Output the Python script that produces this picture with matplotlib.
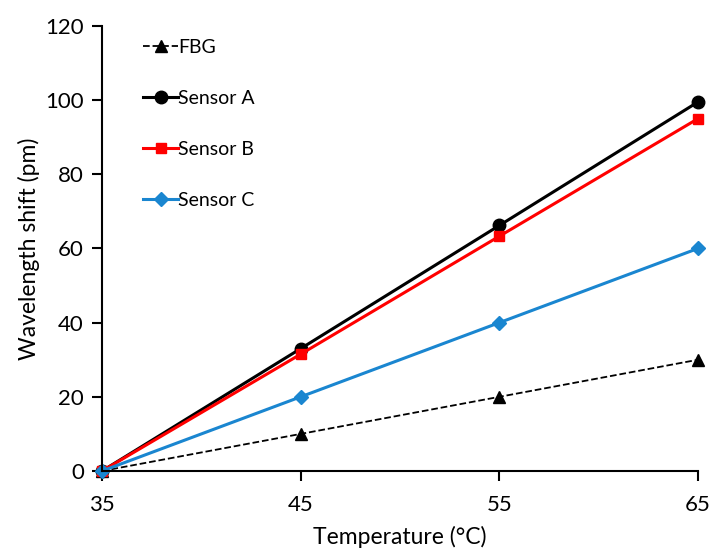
import matplotlib
matplotlib.use("Agg")
import matplotlib.pyplot as plt

plt.rcParams["font.family"] = ["Lato", "DejaVu Sans"]

temperature = [35, 45, 55, 65]
fbg = [0, 10, 20, 30]
sensor_a = [0, 33, 66.2, 99.5]
sensor_b = [0, 31.5, 63.3, 95]
sensor_c = [0, 20, 40, 60]

fig = plt.figure(figsize=(7.1, 5.48), dpi=100)
ax = fig.add_axes([0.1437, 0.1405, 0.8393, 0.8121])

ax.plot(temperature, fbg, "k--", marker="^", lw=1.3, ms=8, label="FBG", clip_on=False)
ax.plot(temperature, sensor_a, color="black", marker="o", lw=2.2, ms=9, label="Sensor A", clip_on=False)
ax.plot(temperature, sensor_b, color="#ff0000", marker="s", lw=2.2, ms=7.5, label="Sensor B", clip_on=False)
ax.plot(temperature, sensor_c, color="#1a86d0", marker="D", lw=2.2, ms=7.5, label="Sensor C", clip_on=False)

ax.set_xlim(35, 65)
ax.set_ylim(0, 120)
ax.set_xticks(temperature)
ax.set_yticks(range(0, 121, 20))
ax.spines["top"].set_visible(False)
ax.spines["right"].set_visible(False)
ax.spines["left"].set_linewidth(1.5)
ax.spines["bottom"].set_linewidth(1.5)
ax.tick_params(direction="out", length=7, width=1.5, labelsize=16)
ax.tick_params(axis="x", pad=10)
ax.tick_params(axis="y", pad=6)

ax.set_xlabel("Temperature (°C)", fontsize=16.5, labelpad=8)
ax.set_ylabel("Wavelength shift (pm)", fontsize=16.5, labelpad=4)

ax.legend(loc="upper left", bbox_to_anchor=(0.04, 1.01), frameon=False, fontsize=14,
          handlelength=1.8, handletextpad=0.0, labelspacing=1.75)

fig.savefig("out.png", dpi=100)
